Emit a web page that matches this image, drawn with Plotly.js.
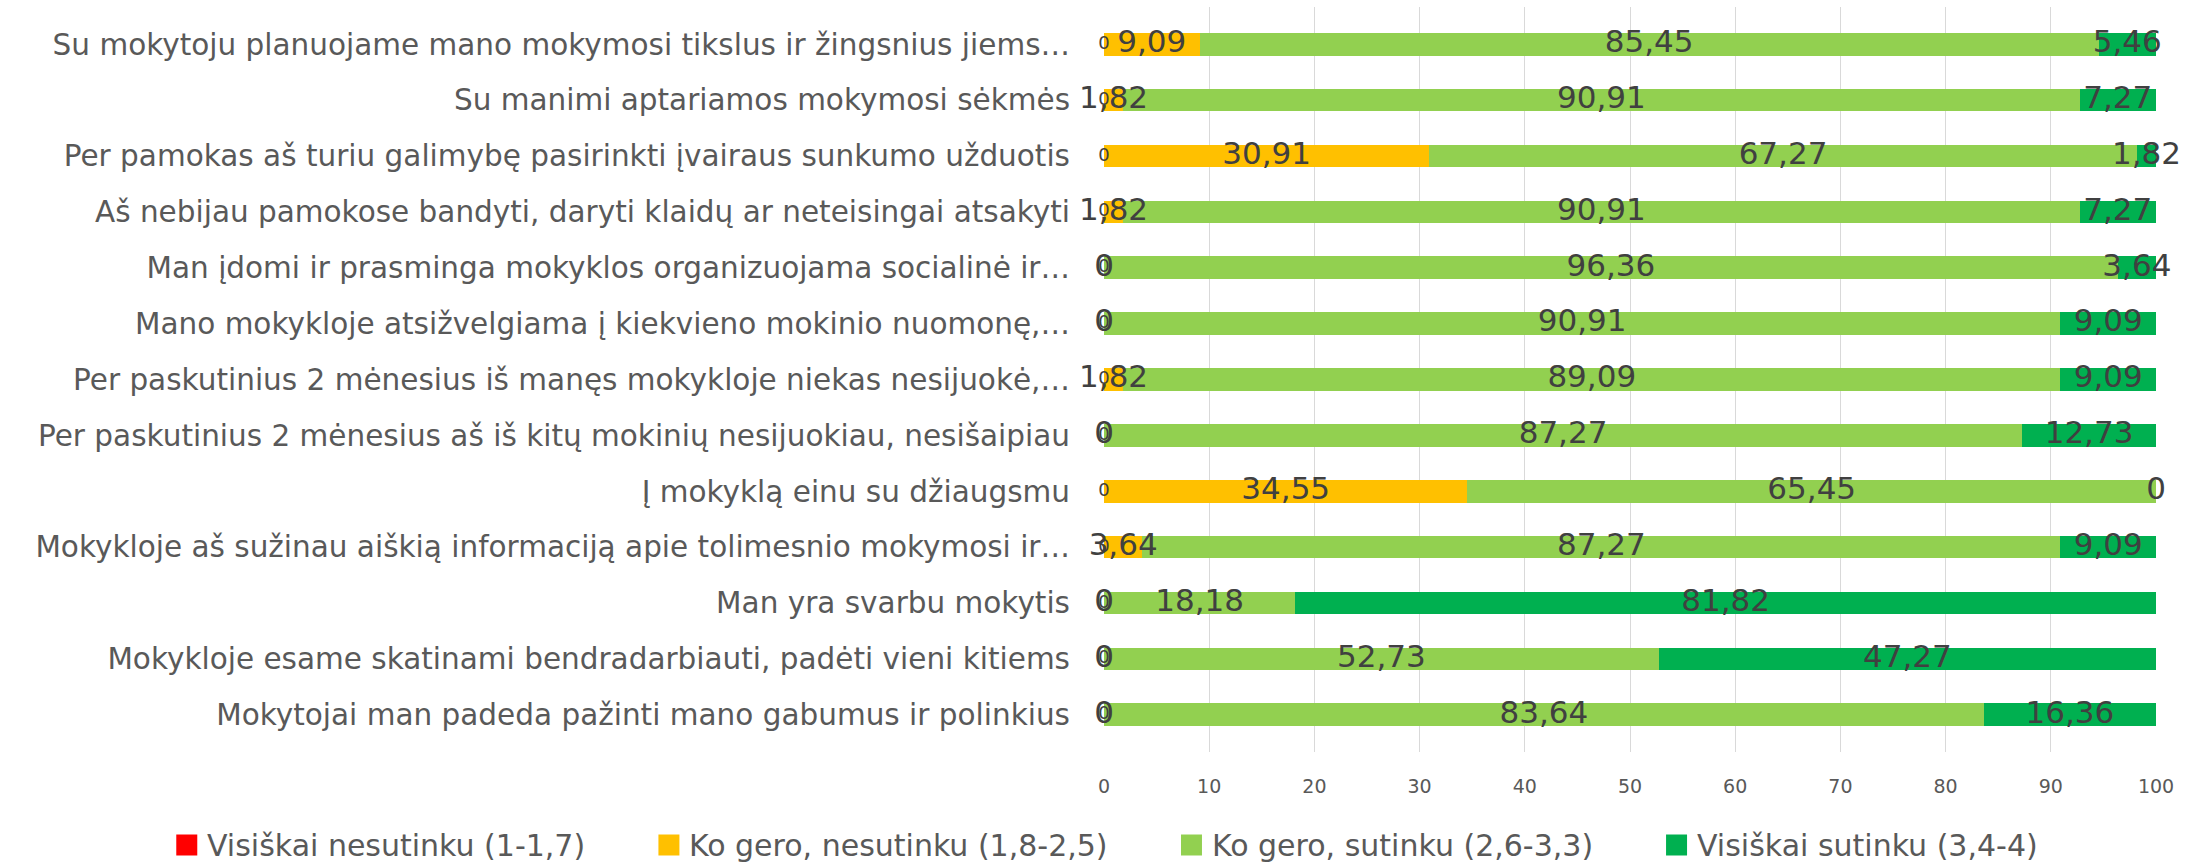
<!DOCTYPE html>
<html>
<head>
<meta charset="utf-8">
<script src="https://cdn.plot.ly/plotly-3.0.1.min.js"></script>
<style>html,body{margin:0;padding:0;background:#fff;}</style>
</head>
<body>
<div id="chart" style="width:2201px;height:864px;"></div>
<script>
const categories = [
  "Su mokytoju planuojame mano mokymosi tikslus ir žingsnius jiems…",
  "Su manimi aptariamos mokymosi sėkmės",
  "Per pamokas aš turiu galimybę pasirinkti įvairaus sunkumo užduotis",
  "Aš nebijau pamokose bandyti, daryti klaidų ar neteisingai atsakyti",
  "Man įdomi ir prasminga mokyklos organizuojama socialinė ir…",
  "Mano mokykloje atsižvelgiama į kiekvieno mokinio nuomonę,…",
  "Per paskutinius 2 mėnesius iš manęs mokykloje niekas nesijuokė,…",
  "Per paskutinius 2 mėnesius aš iš kitų mokinių nesijuokiau, nesišaipiau",
  "Į mokyklą einu su džiaugsmu",
  "Mokykloje aš sužinau aiškią informaciją apie tolimesnio mokymosi ir…",
  "Man yra svarbu mokytis",
  "Mokykloje esame skatinami bendradarbiauti, padėti vieni kitiems",
  "Mokytojai man padeda pažinti mano gabumus ir polinkius"
];
const seriesNames = [
  "Visiškai nesutinku (1-1,7)",
  "Ko gero, nesutinku (1,8-2,5)",
  "Ko gero, sutinku (2,6-3,3)",
  "Visiškai sutinku (3,4-4)"
];
const stronglyDisagree = [0,0,0,0,0,0,0,0,0,0,0,0,0];
const disagree = [9.09,1.82,30.91,1.82,0,0,1.82,0,34.55,3.64,0,0,0];
const agree = [85.45,90.91,67.27,90.91,96.36,90.91,89.09,87.27,65.45,87.27,18.18,52.73,83.64];
const stronglyAgree = [5.46,7.27,1.82,7.27,3.64,9.09,9.09,12.73,0,9.09,81.82,47.27,16.36];
const xTicks = [0,10,20,30,40,50,60,70,80,90,100];

const seriesValues = [stronglyDisagree, disagree, agree, stronglyAgree];
const colors = ["#FF0000", "#FFC000", "#92D050", "#00B050"];
const FONT = "'DejaVu Sans', 'Liberation Sans', sans-serif";

const W = 2201, H = 864;
const M = { l: 1104, r: 45, t: 7, b: 112 };
const plotW = W - M.l - M.r, plotH = H - M.t - M.b;

function fmt(v) {
  if (v === 0) return "0";
  return v.toFixed(2).replace(".", ",");
}

const traces = [];
seriesValues.forEach((vals, i) => {
  traces.push({
    type: "bar",
    orientation: "h",
    name: seriesNames[i],
    y: categories,
    x: vals,
    marker: { color: colors[i], line: { width: 0 } },
    hoverinfo: "skip",
    showlegend: false
  });
});

// data labels at segment centres, computed from the stacked values
const cum = categories.map(() => 0);
seriesValues.forEach((vals, i) => {
  const xs = [], txt = [];
  vals.forEach((v, j) => {
    xs.push(cum[j] + v / 2);
    txt.push(fmt(v));
    cum[j] += v;
  });
  traces.push({
    type: "scatter",
    mode: "text",
    y: categories,
    x: xs,
    text: txt,
    textposition: "middle center",
    textfont: { family: FONT, size: i === 0 ? 18 : 31, color: "#404040" },
    showlegend: false,
    hoverinfo: "skip",
    cliponaxis: false
  });
});

// custom legend (Excel-style large squares), laid out from measured text widths
const legendFontSize = 30;
const canvas = document.createElement("canvas");
const ctx = canvas.getContext("2d");
ctx.font = legendFontSize + "px 'DejaVu Sans'";
const sq = 21, sqGap = 8, itemGap = 75;
const widths = seriesNames.map(n => ctx.measureText(n).width);
const totalW = widths.reduce((a, w) => a + sq + sqGap + w, 0) + itemGap * (seriesNames.length - 1);
const legendCenterX = 1106, legendCenterY = 845;
let cursor = legendCenterX - totalW / 2;
const shapes = [], annotations = [];
const toPX = px => (px - M.l) / plotW;
const toPY = py => (H - M.b - py) / plotH;
seriesNames.forEach((n, i) => {
  shapes.push({
    type: "rect", xref: "paper", yref: "paper",
    x0: toPX(cursor), x1: toPX(cursor + sq),
    y0: toPY(legendCenterY + sq / 2), y1: toPY(legendCenterY - sq / 2),
    fillcolor: colors[i], line: { width: 0 }
  });
  annotations.push({
    xref: "paper", yref: "paper",
    x: toPX(cursor + sq + sqGap), y: toPY(legendCenterY),
    xanchor: "left", yanchor: "middle",
    text: n, showarrow: false,
    font: { family: FONT, size: legendFontSize, color: "#595959" }
  });
  cursor += sq + sqGap + widths[i] + itemGap;
});

const layout = {
  width: W,
  height: H,
  margin: M,
  barmode: "stack",
  bargap: 0.594,
  paper_bgcolor: "#ffffff",
  plot_bgcolor: "#ffffff",
  font: { family: FONT, color: "#595959" },
  xaxis: {
    range: [0, 100],
    tickvals: xTicks,
    ticktext: xTicks.map(String),
    showgrid: true,
    gridcolor: "#d9d9d9",
    gridwidth: 1,
    zeroline: false,
    showline: false,
    ticks: "",
    tickfont: { family: FONT, size: 19, color: "#595959" },
    ticklabelstandoff: 21,
    fixedrange: true
  },
  yaxis: {
    type: "category",
    autorange: "reversed",
    showgrid: false,
    zeroline: false,
    showline: false,
    ticks: "",
    tickfont: { family: FONT, size: 29.5, color: "#595959" },
    ticklabelstandoff: 33,
    fixedrange: true
  },
  showlegend: false,
  shapes: shapes,
  annotations: annotations,
  hovermode: false
};

Plotly.newPlot("chart", traces, layout, { displayModeBar: false, staticPlot: true });
</script>
</body>
</html>
